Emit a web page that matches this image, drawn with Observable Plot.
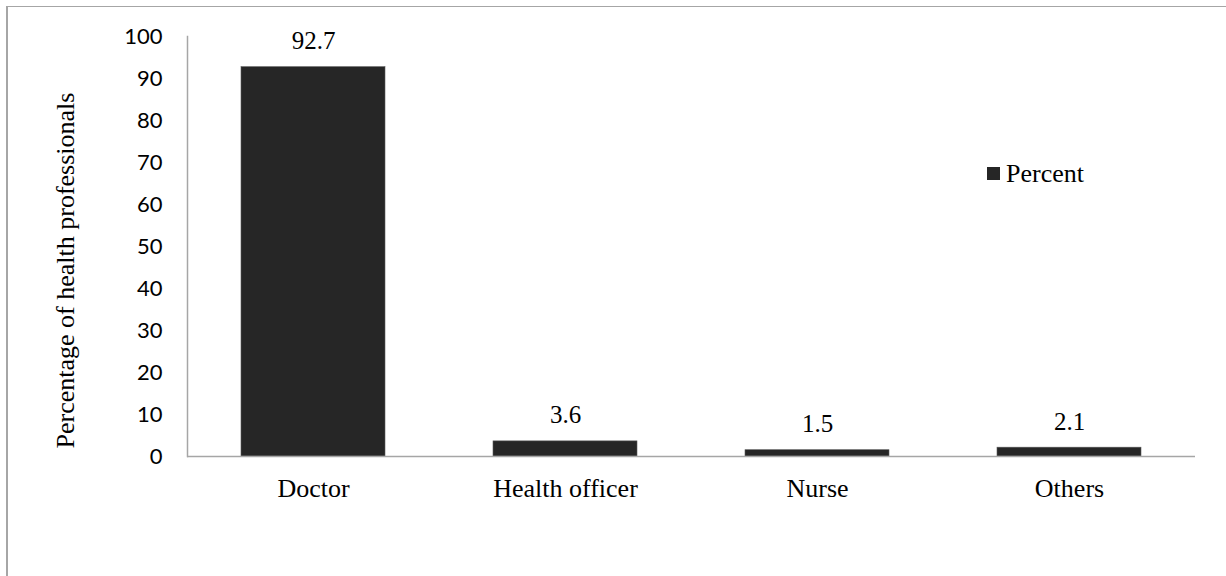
<!DOCTYPE html>
<html>
<head>
<meta charset="utf-8">
<script src="https://cdn.jsdelivr.net/npm/d3@7"></script>
<script src="https://cdn.jsdelivr.net/npm/@observablehq/plot@0.6"></script>
<style>
  html, body { margin: 0; padding: 0; background: #fff; }
  #wrap { position: relative; width: 1226px; height: 576px; overflow: hidden; }
  #frame { position: absolute; left: 6px; top: 6px; width: 1240px; height: 600px;
           border-left: 2px solid #a6a6a6; border-top: 1px solid #a6a6a6; box-sizing: border-box; }
  #chart { position: absolute; left: 0; top: 0; }
  #legend { position: absolute; left: 987px; top: 157px; }
  .lg-swatch > svg { margin-right: 6px !important; }
</style>
</head>
<body>
<div id="wrap">
  <div id="frame"></div>
  <div id="chart"></div>
  <div id="legend"></div>
</div>
<script>
// Share of respondents by professional category
const categories = ["Doctor", "Health officer", "Nurse", "Others"];
const percent = [92.7, 3.6, 1.5, 2.1];
const yTicks = [0, 10, 20, 30, 40, 50, 60, 70, 80, 90, 100];
const seriesName = "Percent";
const yTitle = "Percentage of health professionals";

const rows = categories.map((c, i) => ({category: c, value: percent[i]}));

const serif = "'Liberation Serif', 'Times New Roman', serif";
const sans = "Lato, 'Open Sans', sans-serif";
const barFill = "#262626";
const axisGray = "#a6a6a6";

const chart = Plot.plot({
  width: 1226,
  height: 576,
  marginLeft: 187,
  marginRight: 31,
  marginTop: 36,
  marginBottom: 120,
  style: {background: "transparent", overflow: "visible"},
  x: {domain: categories, paddingInner: 0.43, paddingOuter: 0.215},
  y: {domain: [0, 100]},
  marks: [
    Plot.barY(rows, {x: "category", y: "value", fill: barFill, stroke: "#5a5a5a", strokeWidth: 0.6}),
    Plot.text(rows, {
      x: "category", y: "value", text: d => d.value.toFixed(1),
      lineAnchor: "middle", dy: -26,
      fontFamily: serif, fontSize: 25, fill: "#000"
    }),
    Plot.axisY({
      ticks: yTicks, tickSize: 0, tickPadding: 25, label: null,
      fontFamily: sans, fontSize: 22, fill: "#000"
    }),
    Plot.axisX({
      tickSize: 0, tickPadding: 22, label: null,
      fontFamily: serif, fontSize: 26, fill: "#000"
    }),
    // vertical axis line along the left edge of the plotting area
    Plot.frame({anchor: "left", stroke: axisGray, strokeWidth: 1.5}),
    Plot.ruleY([0], {stroke: axisGray, strokeWidth: 1.5}),
    Plot.text([yTitle], {
      frameAnchor: "left", textAnchor: "middle", lineAnchor: "middle",
      rotate: -90, dx: -122, dy: 24,
      fontFamily: serif, fontSize: 26, fill: "#000"
    })
  ]
});
document.getElementById("chart").append(chart);

const legend = Plot.legend({
  className: "lg",
  color: {type: "ordinal", domain: [seriesName], range: [barFill]},
  swatchSize: 13,
  style: {fontFamily: serif, fontSize: "26px", color: "#000"}
});
document.getElementById("legend").append(legend);
</script>
</body>
</html>
